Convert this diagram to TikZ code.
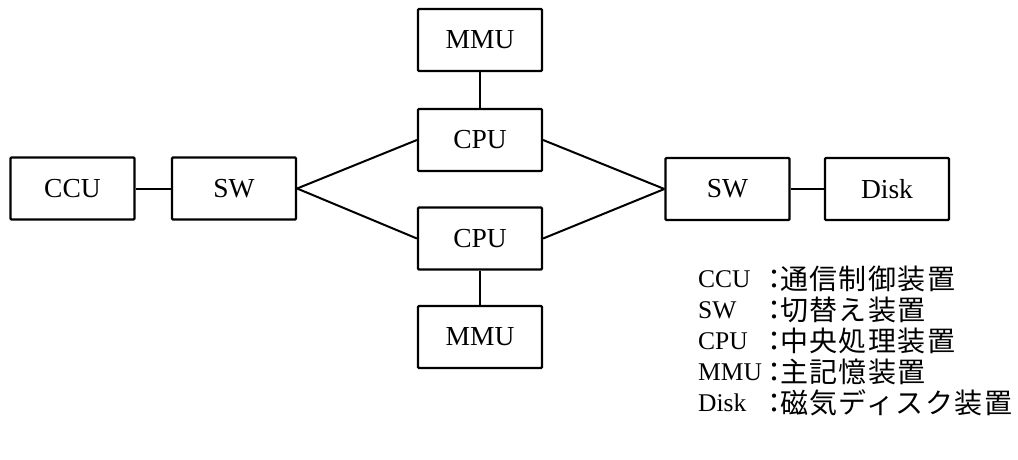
\documentclass[tikz,border=0pt]{standalone}
\usepackage{fontspec}
\setmainfont{Liberation Serif}
\newfontfamily\jpfont{Noto Sans CJK JP}
\newfontfamily\jpspaced{Noto Sans CJK JP}[LetterSpace=5]
\begin{document}
\begin{tikzpicture}[x=1pt, y=-1pt,
  unit/.style={draw, line width=2.2pt, rounded corners=1pt,
    minimum width=124pt, minimum height=62pt, inner sep=0pt,
    font=\fontsize{27.5}{30}\selectfont},
  link/.style={line width=2pt},
  key/.style={anchor=base west, inner sep=0pt, font=\fontsize{25.5}{30}\selectfont},
  sep/.style={anchor=base, inner sep=0pt, font=\jpfont\fontsize{28}{30}\selectfont},
  desc/.style={anchor=base west, inner sep=0pt, font=\jpspaced\fontsize{28}{30}\selectfont}]
  \useasboundingbox (0,0) rectangle (1018,459);

  % units
  \node[unit] (ccu)  at (72.5,188.5) {CCU};
  \node[unit] (swl)  at (234,188.5)  {SW};
  \node[unit] (mmut) at (480,40)     {MMU};
  \node[unit] (cput) at (480,140)    {CPU};
  \node[unit] (cpub) at (480,238.5)  {CPU};
  \node[unit] (mmub) at (480,337)    {MMU};
  \node[unit] (swr)  at (727.5,189)  {SW};
  \node[unit] (disk) at (887,189)    {Disk};

  % connections
  \draw[link] (ccu.east) -- (swl.west);
  \draw[link] (swl.east) -- (cput.west);
  \draw[link] (swl.east) -- (cpub.west);
  \draw[link] (mmut.south) -- (cput.north);
  \draw[link] (cpub.south) -- (mmub.north);
  \draw[link] (cput.east) -- (swr.west);
  \draw[link] (cpub.east) -- (swr.west);
  \draw[link] (swr.east) -- (disk.west);

  % legend
  \foreach \k/\d/\y [count=\i] in {CCU/通信制御装置/287, SW/切替え装置/318,
      CPU/中央処理装置/349, MMU/主記憶装置/380, Disk/磁気ディスク装置/411}{
    \node[key]  (key\i) at (698,\y) {\k};
    \node[sep]  (sep\i) at (774,\y+2.3) {：};
    \node[desc] (desc\i) at (780,\y+2.3) {\d};
  }
\end{tikzpicture}
\end{document}
